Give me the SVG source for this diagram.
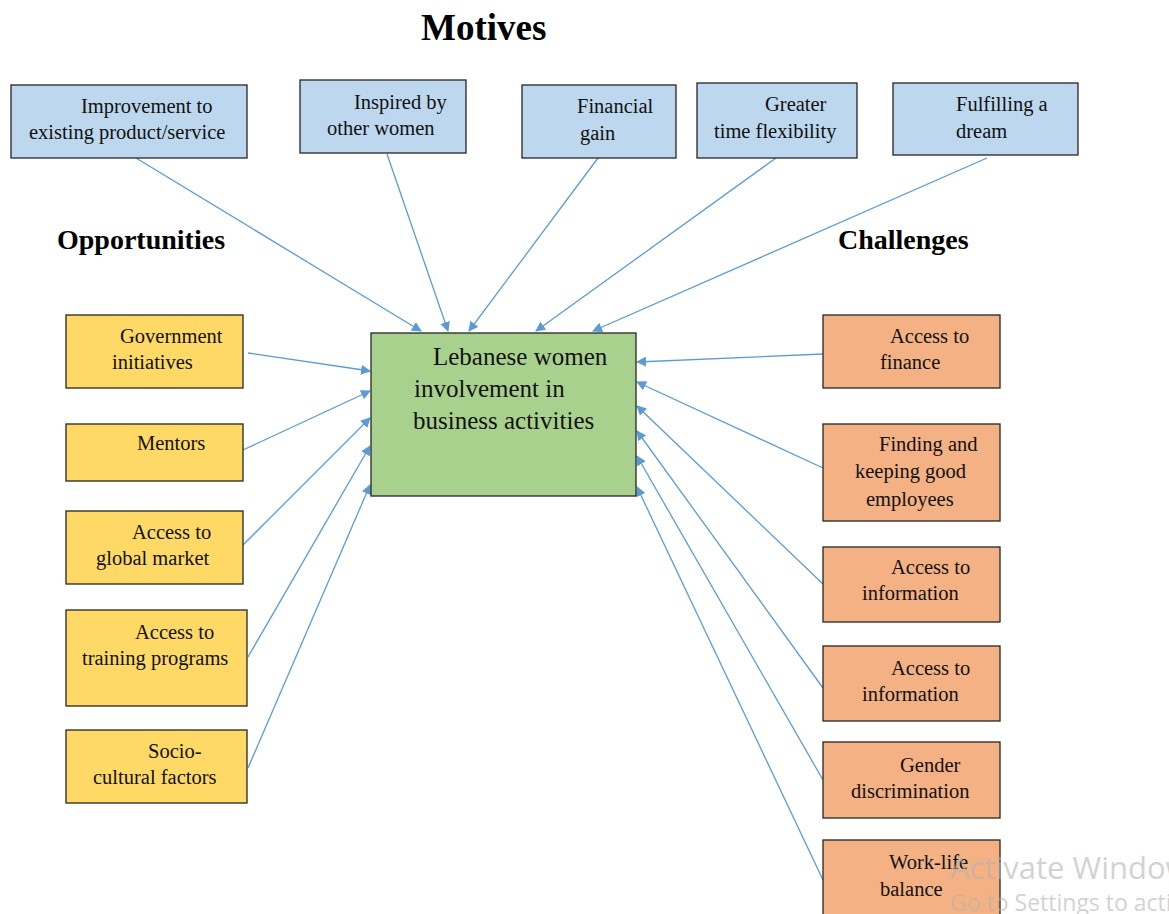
<svg xmlns="http://www.w3.org/2000/svg" width="1169" height="914" viewBox="0 0 1169 914">
  <style>
    .box { stroke: #262626; stroke-width: 1.3; }
    .motive { fill: #BDD7EE; }
    .opp { fill: #FFD966; }
    .chal { fill: #F4B183; }
    .core { fill: #A9D18E; }
    .lbl { font-family: "Liberation Serif", "Times New Roman", serif; font-size: 20.5px; fill: #111; }
    .big { font-family: "Liberation Serif", "Times New Roman", serif; font-size: 25px; fill: #111; }
    .head { font-family: "Liberation Serif", "Times New Roman", serif; font-weight: bold; fill: #000; }
    .link { stroke: #5B9BD5; stroke-width: 1.3; fill: none; marker-end: url(#tip); }
    .wm { font-family: "Open Sans", "Noto Sans", sans-serif; fill: #b4b4b4; fill-opacity: 0.6; }
  </style>
  <defs>
    <marker id="tip" viewBox="0 0 10 10" refX="9" refY="5" markerWidth="10" markerHeight="10" markerUnits="userSpaceOnUse" orient="auto">
      <path d="M0,0 L10,5 L0,10 z" fill="#5B9BD5"/>
    </marker>
  </defs>

  <rect width="1169" height="914" fill="#fff"/>

  <!-- section headings -->
  <text class="head" x="421" y="40" font-size="37">Motives</text>
  <text class="head" x="57" y="249" font-size="28">Opportunities</text>
  <text class="head" x="838" y="249" font-size="28">Challenges</text>

  <!-- connectors -->
  <g id="connectors">
    <line class="link" x1="136" y1="158" x2="421" y2="331"/>
    <line class="link" x1="387" y1="154" x2="448" y2="331"/>
    <line class="link" x1="598" y1="158" x2="469" y2="331"/>
    <line class="link" x1="776" y1="158" x2="536" y2="331"/>
    <line class="link" x1="987" y1="158" x2="593" y2="331"/>

    <line class="link" x1="248" y1="353" x2="370" y2="371"/>
    <line class="link" x1="243" y1="450" x2="370" y2="391"/>
    <line class="link" x1="243" y1="545" x2="370" y2="418"/>
    <line class="link" x1="248" y1="657" x2="370" y2="446"/>
    <line class="link" x1="248" y1="768" x2="370" y2="485"/>

    <line class="link" x1="823" y1="354" x2="637" y2="362"/>
    <line class="link" x1="823" y1="468" x2="637" y2="382"/>
    <line class="link" x1="823" y1="584" x2="637" y2="406"/>
    <line class="link" x1="823" y1="688" x2="637" y2="431"/>
    <line class="link" x1="823" y1="780" x2="637" y2="456"/>
    <line class="link" x1="823" y1="880" x2="637" y2="487"/>
  </g>

  <!-- motives -->
  <g id="m-improvement">
    <rect class="box motive" x="11" y="85" width="236" height="73"/>
    <text class="lbl" x="81" y="113">Improvement to</text>
    <text class="lbl" x="29" y="139">existing product/service</text>
  </g>
  <g id="m-inspired">
    <rect class="box motive" x="300" y="80" width="166" height="73"/>
    <text class="lbl" x="354" y="109">Inspired by</text>
    <text class="lbl" x="327" y="135">other women</text>
  </g>
  <g id="m-financial">
    <rect class="box motive" x="522" y="85" width="154" height="73"/>
    <text class="lbl" x="577" y="113">Financial</text>
    <text class="lbl" x="580" y="140">gain</text>
  </g>
  <g id="m-flexibility">
    <rect class="box motive" x="697" y="83" width="160" height="75"/>
    <text class="lbl" x="765" y="111">Greater</text>
    <text class="lbl" x="714" y="138">time flexibility</text>
  </g>
  <g id="m-dream">
    <rect class="box motive" x="893" y="83" width="185" height="72"/>
    <text class="lbl" x="956" y="111">Fulfilling a</text>
    <text class="lbl" x="956" y="138">dream</text>
  </g>

  <!-- central node -->
  <g id="core">
    <rect class="box core" x="371" y="333" width="265" height="163"/>
    <text class="big" x="433" y="365">Lebanese women</text>
    <text class="big" x="414" y="397">involvement in</text>
    <text class="big" x="413" y="429">business activities</text>
  </g>

  <!-- opportunities -->
  <g id="o-government">
    <rect class="box opp" x="66" y="315" width="177" height="73"/>
    <text class="lbl" x="120" y="343">Government</text>
    <text class="lbl" x="112" y="369">initiatives</text>
  </g>
  <g id="o-mentors">
    <rect class="box opp" x="66" y="424" width="177" height="57"/>
    <text class="lbl" x="137" y="450">Mentors</text>
  </g>
  <g id="o-global">
    <rect class="box opp" x="66" y="511" width="177" height="73"/>
    <text class="lbl" x="132" y="539">Access to</text>
    <text class="lbl" x="96" y="565">global market</text>
  </g>
  <g id="o-training">
    <rect class="box opp" x="66" y="610" width="181" height="96"/>
    <text class="lbl" x="135" y="639">Access to</text>
    <text class="lbl" x="82" y="665">training programs</text>
  </g>
  <g id="o-socio">
    <rect class="box opp" x="66" y="730" width="181" height="73"/>
    <text class="lbl" x="148" y="758">Socio-</text>
    <text class="lbl" x="93" y="784">cultural factors</text>
  </g>

  <!-- challenges -->
  <g id="c-finance">
    <rect class="box chal" x="823" y="315" width="177" height="73"/>
    <text class="lbl" x="890" y="343">Access to</text>
    <text class="lbl" x="880" y="369">finance</text>
  </g>
  <g id="c-employees">
    <rect class="box chal" x="823" y="424" width="177" height="97"/>
    <text class="lbl" x="879" y="451">Finding and</text>
    <text class="lbl" x="855" y="478">keeping good</text>
    <text class="lbl" x="866" y="506">employees</text>
  </g>
  <g id="c-information-1">
    <rect class="box chal" x="823" y="547" width="177" height="75"/>
    <text class="lbl" x="891" y="574">Access to</text>
    <text class="lbl" x="862" y="600">information</text>
  </g>
  <g id="c-information-2">
    <rect class="box chal" x="823" y="646" width="177" height="75"/>
    <text class="lbl" x="891" y="675">Access to</text>
    <text class="lbl" x="862" y="701">information</text>
  </g>
  <g id="c-gender">
    <rect class="box chal" x="823" y="742" width="177" height="76"/>
    <text class="lbl" x="900" y="772">Gender</text>
    <text class="lbl" x="851" y="798">discrimination</text>
  </g>
  <g id="c-worklife">
    <rect class="box chal" x="823" y="840" width="177" height="82"/>
    <text class="lbl" x="889" y="869">Work-life</text>
    <text class="lbl" x="880" y="896">balance</text>
  </g>

  <!-- system overlay text -->
  <text class="wm" x="950" y="879" font-size="31">Activate Windows</text>
  <text class="wm" x="950" y="911" font-size="23">Go to Settings to activate Windows.</text>
</svg>
